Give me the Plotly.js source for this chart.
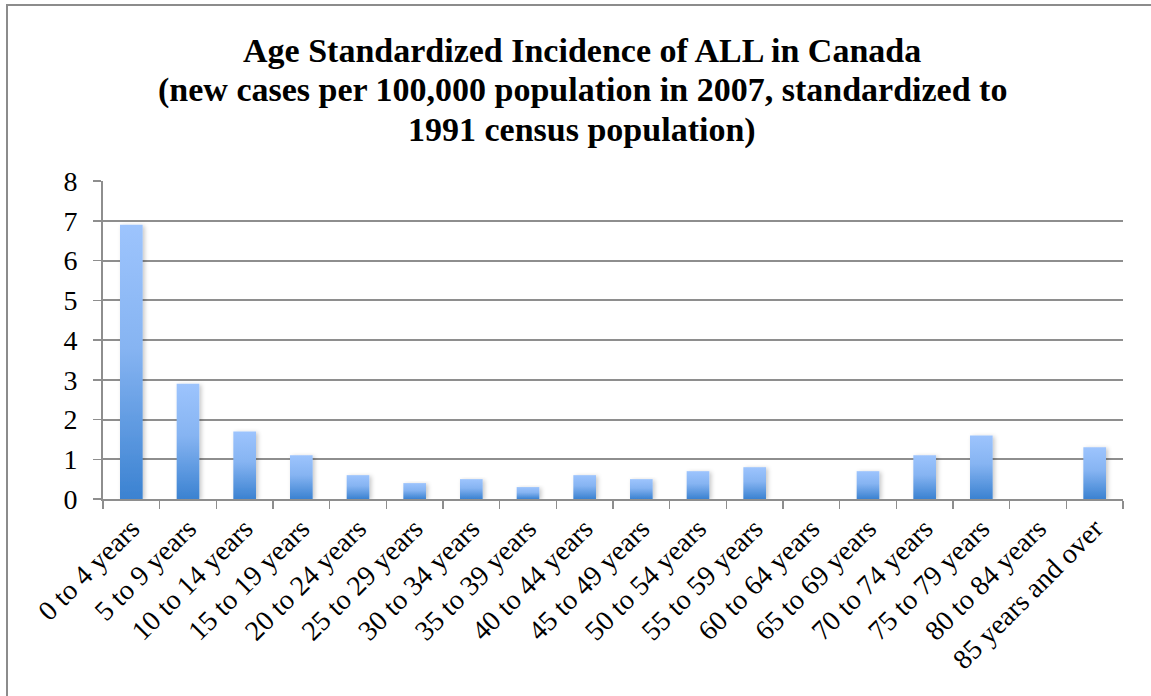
<!DOCTYPE html>
<html>
<head>
<meta charset="utf-8">
<script src="https://cdn.plot.ly/plotly-3.0.1.min.js"></script>
<style>
  html, body { margin: 0; padding: 0; background: #fff; }
  #wrap { position: relative; width: 1151px; height: 696px; overflow: hidden; }
  #frame { position: absolute; left: 6px; top: 4px; width: 1200px; height: 800px;
           border-left: 2px solid #8c8c8c; border-top: 2px solid #8c8c8c; pointer-events: none; }
  #chart { position: absolute; left: 0; top: 0; width: 1151px; height: 696px; }
</style>
</head>
<body>
<div id="wrap">
  <div id="chart"></div>
  <div id="frame"></div>
</div>
<script>
// Age groups and incidence (new cases per 100,000), 2007
const ageGroups = [
  "0 to 4 years", "5 to 9 years", "10 to 14 years", "15 to 19 years",
  "20 to 24 years", "25 to 29 years", "30 to 34 years", "35 to 39 years",
  "40 to 44 years", "45 to 49 years", "50 to 54 years", "55 to 59 years",
  "60 to 64 years", "65 to 69 years", "70 to 74 years", "75 to 79 years",
  "80 to 84 years", "85 years and over"
];
const incidence = [6.9, 2.9, 1.7, 1.1, 0.6, 0.4, 0.5, 0.3, 0.6, 0.5, 0.7, 0.8,
                   null, 0.7, 1.1, 1.6, null, 1.3];
const yTicks = [0, 1, 2, 3, 4, 5, 6, 7, 8];

const titleLines = [
  "Age Standardized Incidence of ALL in Canada",
  "(new cases per 100,000 population in 2007, standardized to",
  "1991 census population)"
];

const gridColor = "#8e8e8e";
const serif = "Liberation Serif, Times New Roman, serif";

const trace = {
  type: "bar",
  x: ageGroups,
  y: incidence,
  marker: { color: "#6ea6ec", line: { width: 0 } },
  hoverinfo: "x+y"
};

// Title lines stacked above the plot area (paper y measured from the plot bottom)
const plotTop = 181, plotBottom = 499;
const titleCenters = [50, 90, 130];
const titleAnnotations = titleLines.map((line, i) => ({
  text: line,
  xref: "paper", yref: "paper",
  x: 0.47, xanchor: "center",
  y: (plotBottom - titleCenters[i]) / (plotBottom - plotTop), yanchor: "middle",
  showarrow: false,
  font: { family: serif, size: 34, color: "#000", weight: "bold" }
}));

const layout = {
  width: 1151,
  height: 696,
  margin: { l: 103, r: 28, t: 181, b: 197 },
  paper_bgcolor: "#ffffff",
  plot_bgcolor: "#ffffff",
  showlegend: false,
  bargap: 0.6,
  annotations: titleAnnotations,
  xaxis: {
    type: "category",
    tickangle: -45,
    tickson: "boundaries",
    ticks: "outside",
    ticklen: 8,
    tickwidth: 1.5,
    tickcolor: gridColor,
    showgrid: false,
    showline: true,
    linecolor: gridColor,
    linewidth: 2,
    tickfont: { family: serif, size: 28, color: "#000" },
    fixedrange: true
  },
  yaxis: {
    range: [0, 8],
    tickvals: yTicks,
    ticktext: yTicks.map(String),
    ticks: "outside",
    ticklen: 8,
    tickwidth: 1.5,
    tickcolor: gridColor,
    showgrid: true,
    gridcolor: gridColor,
    gridwidth: 2,
    zeroline: false,
    showline: true,
    linecolor: gridColor,
    linewidth: 2,
    ticklabelstandoff: 10,
    tickfont: { family: serif, size: 28, color: "#000" },
    fixedrange: true
  }
};

// Vertical gradient fill and soft shadow for the bars
function styleBars(gd) {
  const svg = gd.querySelector("svg.main-svg");
  if (!svg) return;
  const ns = "http://www.w3.org/2000/svg";
  let defs = svg.querySelector("defs");
  if (!defs) { defs = document.createElementNS(ns, "defs"); svg.insertBefore(defs, svg.firstChild); }

  const grad = document.createElementNS(ns, "linearGradient");
  grad.setAttribute("id", "barFill");
  grad.setAttribute("x1", "0"); grad.setAttribute("y1", "0");
  grad.setAttribute("x2", "0"); grad.setAttribute("y2", "1");
  [["0%", "#9dc4fd"], ["45%", "#86b4f2"], ["100%", "#3b82d1"]].forEach(([off, col]) => {
    const s = document.createElementNS(ns, "stop");
    s.setAttribute("offset", off);
    s.setAttribute("stop-color", col);
    grad.appendChild(s);
  });
  defs.appendChild(grad);

  const filt = document.createElementNS(ns, "filter");
  filt.setAttribute("id", "barShadow");
  filt.setAttribute("x", "-30%"); filt.setAttribute("y", "-10%");
  filt.setAttribute("width", "170%"); filt.setAttribute("height", "130%");
  const ds = document.createElementNS(ns, "feDropShadow");
  ds.setAttribute("dx", "2"); ds.setAttribute("dy", "1");
  ds.setAttribute("stdDeviation", "2");
  ds.setAttribute("flood-color", "#000");
  ds.setAttribute("flood-opacity", "0.22");
  filt.appendChild(ds);
  defs.appendChild(filt);

  gd.querySelectorAll(".barlayer .point path").forEach(p => {
    p.style.fill = "url(#barFill)";
    p.setAttribute("filter", "url(#barShadow)");
  });
}

const gd = document.getElementById("chart");
Plotly.newPlot(gd, [trace], layout, { displayModeBar: false, staticPlot: true })
  .then(() => styleBars(gd));
</script>
</body>
</html>
